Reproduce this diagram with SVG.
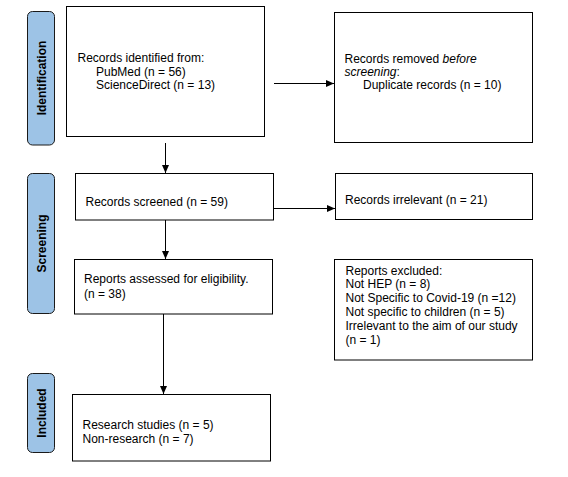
<svg xmlns="http://www.w3.org/2000/svg" width="568" height="477" viewBox="0 0 568 477">
<style>
.box{fill:#fff;stroke:#000;stroke-width:1}
.tab{fill:#9dc3e6;stroke:#1a1a1a;stroke-width:1}
.t{font-family:"Liberation Sans",Arial,sans-serif;font-size:12px;fill:#000}
.tb{font-family:"Liberation Sans",Arial,sans-serif;font-size:12px;font-weight:bold;fill:#000}
.c{stroke:#000;stroke-width:1;fill:none}
</style>
<defs>
<marker id="ah" viewBox="0 0 8 8" refX="8" refY="4" markerWidth="8" markerHeight="8" markerUnits="userSpaceOnUse" orient="auto">
<path d="M0,0.5 L8,4 L0,7.5 Z" fill="#000"/>
</marker>
</defs>
<rect width="568" height="477" fill="#fff"/>
<g id="tab-identification">
<rect class="tab" x="27.5" y="11.5" width="27" height="133.5" rx="5"/>
<text class="tb" transform="translate(45.5,78) rotate(-90)" text-anchor="middle">Identification</text>
</g>
<g id="tab-screening">
<rect class="tab" x="27.5" y="173.5" width="27" height="140" rx="5"/>
<text class="tb" transform="translate(45.5,243.5) rotate(-90)" text-anchor="middle">Screening</text>
</g>
<g id="tab-included">
<rect class="tab" x="27.5" y="373.5" width="27" height="79" rx="5"/>
<text class="tb" transform="translate(45.5,413) rotate(-90)" text-anchor="middle">Included</text>
</g>
<g id="identified">
<rect class="box" x="66.5" y="6.5" width="198" height="130"/>
<text class="t" x="77.5" y="62">Records identified from:</text>
<text class="t" x="96" y="75.5">PubMed (n = 56)</text>
<text class="t" x="96" y="88.5">ScienceDirect (n = 13)</text>
</g>
<g id="removed">
<rect class="box" x="334.5" y="12.5" width="198" height="130"/>
<text class="t" x="344.5" y="62.5">Records removed <tspan font-style="italic">before</tspan></text>
<text class="t" x="344.5" y="75.5"><tspan font-style="italic">screening</tspan>:</text>
<text class="t" x="363" y="88.5">Duplicate records (n = 10)</text>
</g>
<g id="screened">
<rect class="box" x="75.5" y="173.5" width="198" height="46.5"/>
<text class="t" x="85.5" y="205.5">Records screened (n = 59)</text>
</g>
<g id="irrelevant">
<rect class="box" x="335.5" y="173.5" width="197" height="46"/>
<text class="t" x="345" y="204">Records irrelevant (n = 21)</text>
</g>
<g id="assessed">
<rect class="box" x="74.5" y="259.5" width="198" height="54.5"/>
<text class="t" x="84" y="283">Reports assessed for eligibility.</text>
<text class="t" x="84" y="298">(n = 38)</text>
</g>
<g id="excluded">
<rect class="box" x="334.5" y="259.5" width="198" height="100.5"/>
<text class="t" x="345.5" y="274.5">Reports excluded:</text>
<text class="t" x="345.5" y="288.3">Not HEP (n = 8)</text>
<text class="t" x="345.5" y="302.1">Not Specific to Covid-19 (n =12)</text>
<text class="t" x="345.5" y="315.9">Not specific to children (n = 5)</text>
<text class="t" x="345.5" y="329.7">Irrelevant to the aim of our study</text>
<text class="t" x="345.5" y="343.5">(n = 1)</text>
</g>
<g id="included">
<rect class="box" x="72.5" y="394.5" width="198" height="66.5"/>
<text class="t" x="82.5" y="429">Research studies (n = 5)</text>
<text class="t" x="82.5" y="442.5">Non-research (n = 7)</text>
</g>
<g id="connectors">
<line class="c" x1="274" y1="83.5" x2="334" y2="83.5" marker-end="url(#ah)"/>
<line class="c" x1="165.5" y1="143" x2="165.5" y2="173" marker-end="url(#ah)"/>
<line class="c" x1="274" y1="208.5" x2="335" y2="208.5" marker-end="url(#ah)"/>
<line class="c" x1="165.5" y1="220" x2="165.5" y2="259" marker-end="url(#ah)"/>
<line class="c" x1="163.5" y1="314" x2="163.5" y2="394" marker-end="url(#ah)"/>
</g>
</svg>
